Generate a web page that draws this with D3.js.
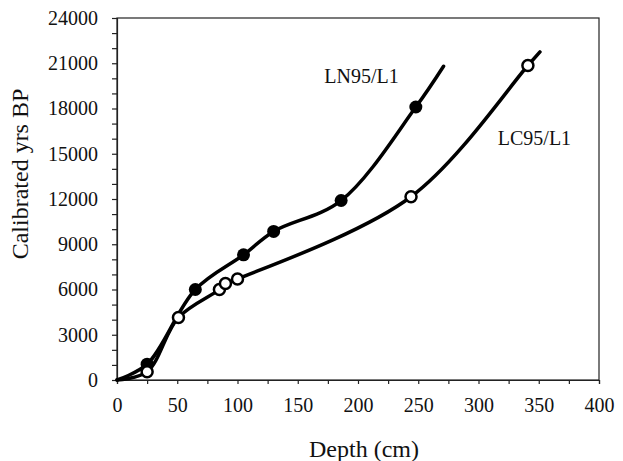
<!DOCTYPE html>
<html lang="en">
<head>
<meta charset="utf-8">
<title>age depth</title>
<script src="https://d3js.org/d3.v7.min.js"></script>
<style>
  body { margin: 0; background: #fff; }
</style>
</head>
<body>
<svg id="chart" width="623" height="461"></svg>
<script>
// LN95/L1 (filled dots)
const lnDepth = [25, 65, 105, 130, 186, 248]
const lnAge   = [1050, 6000, 8300, 9850, 11900, 18100]
// LC95/L1 (open dots)
const lcDepth = [25, 51, 85, 90, 100, 244, 341]
const lcAge   = [550, 4150, 6000, 6400, 6700, 12150, 20850]
// smoothed curves run from the surface to a little past the last date
const lnCurveDepth = [0, 25, 65, 105, 130, 186, 248, 271]
const lnCurveAge   = [0, 1050, 6000, 8300, 9850, 11900, 18100, 20800]
const lcCurveDepth = [0, 25, 51, 85, 90, 100, 244, 341, 351]
const lcCurveAge   = [0, 550, 4150, 6000, 6400, 6700, 12150, 20850, 21750]

const xTicks = d3.range(0, 401, 25)
const yTicks = d3.range(0, 24001, 1000)

const serif = "'Liberation Serif', 'Times New Roman', serif"
const margin = {top: 18, right: 24, bottom: 81, left: 117}
const W = 623, H = 461
const w = W - margin.left - margin.right
const h = H - margin.top - margin.bottom

const svg = d3.select("#chart")
const g = svg.append("g").attr("transform", `translate(${margin.left},${margin.top})`)

const x = d3.scaleLinear().domain([0, 400]).range([0, w])
const y = d3.scaleLinear().domain([0, 24000]).range([h, 0])

// frame
g.append("rect").attr("width", w).attr("height", h)
  .attr("fill", "none").attr("stroke", "#222").attr("stroke-width", 1.2)

const xAxis = g.append("g").attr("transform", `translate(0,${h})`)
  .call(d3.axisBottom(x).tickValues(xTicks).tickSize(4).tickPadding(9)
    .tickFormat(d => d % 50 === 0 ? d : ""))
const yAxis = g.append("g")
  .call(d3.axisLeft(y).tickValues(yTicks).tickSize(5).tickPadding(14)
    .tickFormat(d => d % 3000 === 0 ? d : ""))
;[xAxis, yAxis].forEach(a => {
  a.attr("font-family", serif).attr("font-size", 20)
  a.select(".domain").attr("stroke", "#222").attr("stroke-width", 1.2)
  a.selectAll(".tick line").attr("stroke", "#222").attr("stroke-width", 1.2)
  a.selectAll("text").attr("fill", "#111")
})
xAxis.selectAll("text").attr("dy", "0.95em")

// curves
const line = d3.line().x(d => x(d[0])).y(d => y(d[1])).curve(d3.curveCatmullRom.alpha(0.5))
const lnCurve = lnCurveDepth.map((d, i) => [d, lnCurveAge[i]])
const lcCurve = lcCurveDepth.map((d, i) => [d, lcCurveAge[i]])
;[lcCurve, lnCurve].forEach(c => {
  g.append("path").datum(c).attr("d", line)
    .attr("fill", "none").attr("stroke", "#000").attr("stroke-width", 3.5)
    .attr("stroke-linecap", "round")
})

// markers
g.selectAll(".ln").data(lnDepth).join("circle")
  .attr("cx", d => x(d)).attr("cy", (d, i) => y(lnAge[i])).attr("r", 6.5)
  .attr("fill", "#000")
g.selectAll(".lc").data(lcDepth).join("circle")
  .attr("cx", d => x(d)).attr("cy", (d, i) => y(lcAge[i])).attr("r", 5.5)
  .attr("fill", "#fff").attr("stroke", "#000").attr("stroke-width", 2.5)

// series labels
g.append("text").attr("x", x(172)).attr("y", y(19700))
  .attr("font-family", serif).attr("font-size", 20).attr("fill", "#111").text("LN95/L1")
g.append("text").attr("x", x(316)).attr("y", y(15550))
  .attr("font-family", serif).attr("font-size", 20).attr("fill", "#111").text("LC95/L1")

// axis titles
svg.append("text").attr("x", 364).attr("y", 457).attr("text-anchor", "middle")
  .attr("font-family", serif).attr("font-size", 24).attr("fill", "#111").text("Depth (cm)")
svg.append("text").attr("transform", "translate(28,174) rotate(-90)").attr("text-anchor", "middle")
  .attr("font-family", serif).attr("font-size", 24).attr("fill", "#111").text("Calibrated yrs BP")
</script>
</body>
</html>
